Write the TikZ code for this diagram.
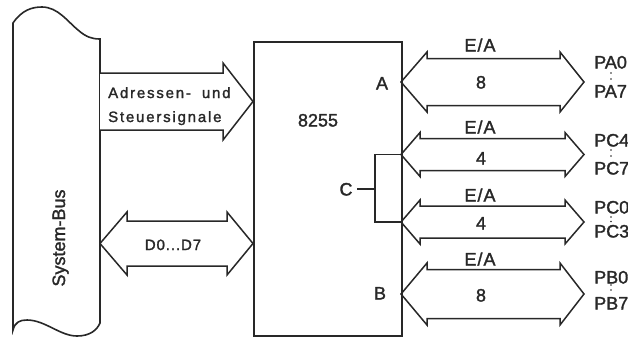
\documentclass[tikz,border=0pt]{standalone}
\usepackage{fontspec}
\setmainfont{Liberation Sans}[FakeBold=1.6]
\newfontfamily\spacedfont{Liberation Sans}[LetterSpace=12,FakeBold=1.6]
\newfontfamily\dfont{Liberation Sans}[LetterSpace=6,FakeBold=1.6]
\definecolor{ink}{RGB}{40,40,40}
\begin{document}
\begin{tikzpicture}[x=1pt,y=-1pt,line join=miter,
  busline/.style={draw=ink,line width=1.6pt,fill=white},
  arrowshape/.style={draw=ink,line width=1.5pt,fill=white},
  chipbox/.style={draw=ink,line width=2.2pt,inner sep=0pt},
  bracket/.style={draw=ink,line width=1.2pt},
  lab/.style={text=ink,inner sep=0pt,font=\fontsize{18}{20}\selectfont},
  smalltext/.style={text=ink,inner sep=0pt,font=\spacedfont\fontsize{15}{17}\selectfont},
  dtext/.style={text=ink,inner sep=0pt,font=\dfont\fontsize{15}{17}\selectfont},
  dotmark/.style={fill=ink}]
\useasboundingbox (0,0) rectangle (628,338);
\fill[white] (0,0) rectangle (628,338);

% system bus
\path[busline] (13,23) .. controls (22,10) and (32,7) .. (42,7)
  .. controls (58,7) and (68,22) .. (78,30)
  .. controls (86,37) and (92,39) .. (100,39)
  -- (100,323)
  .. controls (97,330) and (90,336) .. (77,336)
  .. controls (60,336) and (45,320) .. (27,320)
  .. controls (20,320) and (15,322) .. (13,330) -- cycle;
\node[lab,rotate=90,anchor=base] (busl) at (65,238) {System-Bus};

% address / control arrow
\path[arrowshape] (100,73) -- (223,73) -- (223,63) -- (253,101.5) -- (223,140) -- (223,130) -- (100,130);
\node[smalltext,anchor=base west] (adr) at (108,98) {Adressen-\hspace{5pt} und};
\node[smalltext,anchor=base west] (ctl) at (108,122) {Steuersignale};

% data arrow
\path[arrowshape] (100,243.5) -- (127,212) -- (127,221) -- (227,221) -- (227,212) -- (253,243.5)
  -- (227,275) -- (227,266) -- (127,266) -- (127,275) -- cycle;
\node[dtext,anchor=base] (data) at (173,250) {D0...D7};

% port arrows
\path[arrowshape] (401,82) -- (427,52) -- (427,58.5) -- (560,58.5) -- (560,52) -- (584,82)
  -- (560,112) -- (560,105.5) -- (427,105.5) -- (427,112) -- cycle;
\path[arrowshape] (401,154.5) -- (420,132.5) -- (420,138.5) -- (565,138.5) -- (565,132.5) -- (584,154.5)
  -- (565,176.5) -- (565,170.5) -- (420,170.5) -- (420,176.5) -- cycle;
\path[arrowshape] (401,222) -- (420,200) -- (420,206) -- (565,206) -- (565,200) -- (584,222)
  -- (565,244) -- (565,238) -- (420,238) -- (420,244) -- cycle;
\path[arrowshape] (401,294) -- (427,263) -- (427,269.5) -- (560,269.5) -- (560,263) -- (584,294)
  -- (560,325) -- (560,318.5) -- (427,318.5) -- (427,325) -- cycle;

% 8255 chip
\node[chipbox,minimum width=147.5pt,minimum height=294pt,anchor=north west] (chip) at (253,41) {};
\node[lab,anchor=base] (chipname) at (318,126.5) {8255};
\node[lab,anchor=base] (pa) at (382,89.5) {A};
\node[lab,anchor=base] (pb) at (380,299.5) {B};
\node[lab,anchor=base] (pc) at (346,195.5) {C};

% C bracket
\coordinate (ctop) at (401,154.5);
\coordinate (cbot) at (401,222);
\coordinate (cmid) at (375,189);
\coordinate (cend) at (357,189);
\draw[bracket] (ctop) -- (375,154.5) -- (375,222) -- (cbot);
\draw[bracket] (cmid) -- (cend);

% arrow labels
\node[lab,anchor=base] (ea1) at (480,51.5) {E\kern1pt/\kern1pt A};
\node[lab,anchor=base] (ea2) at (480,133.5) {E\kern1pt/\kern1pt A};
\node[lab,anchor=base] (ea3) at (480,201.5) {E\kern1pt/\kern1pt A};
\node[lab,anchor=base] (ea4) at (480,265.5) {E\kern1pt/\kern1pt A};
\node[lab,anchor=base] (na) at (481,88.5) {8};
\node[lab,anchor=base] (nc1) at (481,164.5) {4};
\node[lab,anchor=base] (nc2) at (481,229.5) {4};
\node[lab,anchor=base] (nb) at (481,301.5) {8};

% port pin labels
\node[lab,anchor=base west] (pa0) at (594,68.5) {PA0};
\node[lab,anchor=base west] (pa7) at (594,97.5) {PA7};
\node[lab,anchor=base west] (pc4) at (594,146.5) {PC4};
\node[lab,anchor=base west] (pc7) at (594,174.5) {PC7};
\node[lab,anchor=base west] (pc0) at (594,213.5) {PC0};
\node[lab,anchor=base west] (pc3) at (594,237.5) {PC3};
\node[lab,anchor=base west] (pb0) at (594,283.5) {PB0};
\node[lab,anchor=base west] (pb7) at (594,309.5) {PB7};
\foreach \ya/\yb in {73/79, 150/156, 217/221.5, 285/290}{
  \fill[dotmark] (611,\ya) circle (0.9);
  \fill[dotmark] (611,\yb) circle (0.9);
}
\end{tikzpicture}
\end{document}
